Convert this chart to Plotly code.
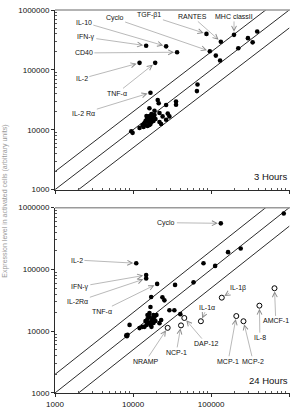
import math
import plotly.graph_objects as go

# ---------------- 3 Hours panel ----------------
h3_lab_names = ["IL-10", "IFN-γ", "CD40", "IL-2", "TNF-α", "IL-2 Rα", "Cyclo", "TGF-β1", "RANTES", "MHC classII"]
h3_lab_x = [26500, 14700, 36600, 12100, 19200, 16700, 96200, 87100, 133000, 196300]
h3_lab_y = [247000, 253000, 197000, 131000, 131000, 41600, 204600, 399000, 294600, 384400]
h3_txt_x = [2340, 2480, 2340, 2210, 6170, 2340, 5810, 16200, 57300, 196300]
h3_txt_y = [622000, 352000, 191800, 71500, 40500, 18960, 724000, 812000, 781000, 781000]

h3_x = [114800, 130200, 222700, 296000, 389000, 340000, 66900, 65700,
        20700, 21300, 35500, 35500, 26500, 16200, 18800, 21800, 23900, 27800,
        29200, 26500, 22900, 21800, 12100, 9490, 9860,
        14000, 14860, 15300, 16220, 17200, 15750, 14430, 16700, 17710, 18790,
        15300, 13610, 16220, 18240, 19350, 14860, 17200, 13210, 14430, 15750,
        17200, 16220]
h3_y = [173300, 143300, 229300, 339000, 437000, 288000, 57000, 44200,
        31400, 27700, 29500, 26200, 25900, 22900, 20800, 19000, 16700, 18600,
        16700, 14700, 12500, 13500, 10700, 9460, 8870,
        12980, 14540, 15680, 16920, 15100, 13480, 12030, 12490, 16290, 17570,
        11580, 11150, 14000, 14000, 15100, 16920, 18240, 12030, 14000, 15100,
        13480, 12030]

# ---------------- 24 Hours panel ----------------
h24_lab_names = ["Cyclo", "IL-2", "IFN-γ", "IL-2Rα", "TNF-α"]
h24_lab_x = [133000, 10980, 14720, 14720, 20340]
h24_lab_y = [556800, 125900, 81100, 71600, 58300]
h24_txt_x = [26700, 1906, 2081, 1963, 3970]
h24_txt_y = [571000, 141900, 52800, 30500, 21100]

h24_open_names = ["IL-1β", "IL-1α", "IL-8", "AMCF-1", "MCP-1", "MCP-2", "NRAMP", "NCP-1", "DAP-12"]
h24_open_x = [136800, 73900, 415000, 647700, 210000, 259500, 27750, 41100, 45300]
h24_open_y = [34900, 14500, 25900, 49600, 17600, 14500, 11340, 12420, 16370]
h24_open_tx = [220800, 88900, 421000, 673000, 165000, 345000, 14430, 35800, 86300]
h24_open_ty = [50900, 24500, 7860, 14660, 3266, 3266, 3266, 4540, 6310]

h24_x = [851000, 239000, 164700, 79800, 112500, 59500, 34500, 17060, 16700,
         23760, 25200, 29200, 33800, 22900, 21800, 40300, 9020, 8190, 8500, 8340,
         12100, 13210,
         15300, 16220, 17200, 18240, 15750, 16700, 17710, 18790, 14860, 19350,
         16220, 14430, 17200, 19920, 15300, 18240, 14000]
h24_y = [803000, 218000, 190300, 125900, 114000, 61800, 56200, 35700, 24700,
         35300, 31600, 21900, 21900, 15200, 13500, 18900, 12650, 8550, 8770, 8300,
         11220, 11770,
         15800, 16990, 14660, 18270, 13620, 12650, 15800, 16990, 12650, 14660,
         19640, 14660, 11770, 18270, 18270, 13620, 11770]

folds = [2, 1, 0.5]
x_span = [1000, 1000000]

tick_vals = [1000, 10000, 100000, 1000000]
tick_text = ["1000", "10000", "100000", "1000000"]

FONT = "Arial, Liberation Sans, sans-serif"
LINE_C = "#2b2b2b"

fig = go.Figure()

def add_panel(xa, ya):
    for f in folds:
        fig.add_trace(go.Scatter(x=x_span, y=[f * v for v in x_span], mode="lines",
                                 line=dict(color=LINE_C, width=1), xaxis=xa, yaxis=ya,
                                 hoverinfo="skip", showlegend=False))

add_panel("x2", "y2")
add_panel("x", "y")

mk = dict(color="black", size=4.6, line=dict(width=0))
fig.add_trace(go.Scatter(x=h3_x + h3_lab_x, y=h3_y + h3_lab_y, mode="markers", marker=mk,
                         xaxis="x2", yaxis="y2", showlegend=False))
fig.add_trace(go.Scatter(x=h24_x + h24_lab_x, y=h24_y + h24_lab_y, mode="markers", marker=mk,
                         xaxis="x", yaxis="y", showlegend=False))
fig.add_trace(go.Scatter(x=h24_open_x, y=h24_open_y, mode="markers",
                         marker=dict(color="white", size=5, line=dict(color="black", width=1)),
                         xaxis="x", yaxis="y", showlegend=False))

def add_ann(names, px, py, tx, ty, xr, yr):
    for n, a, b, c, d in zip(names, px, py, tx, ty):
        fig.add_annotation(x=math.log10(a), y=math.log10(b), ax=math.log10(c), ay=math.log10(d),
                           xref=xr, yref=yr, axref=xr, ayref=yr, text=n,
                           showarrow=True, arrowhead=5, arrowsize=1.6, arrowwidth=0.6,
                           arrowcolor="#8a8a8a", standoff=3,
                           font=dict(family=FONT, size=7, color="#111"))

add_ann(h3_lab_names, h3_lab_x, h3_lab_y, h3_txt_x, h3_txt_y, "x2", "y2")
add_ann(h24_lab_names, h24_lab_x, h24_lab_y, h24_txt_x, h24_txt_y, "x", "y")
add_ann(h24_open_names, h24_open_x, h24_open_y, h24_open_tx, h24_open_ty, "x", "y")

fig.add_annotation(text="3 Hours", xref="x2 domain", yref="y2 domain", x=1, y=0.03,
                   xanchor="right", yanchor="bottom", showarrow=False,
                   font=dict(family=FONT, size=9.5, color="#111"))
fig.add_annotation(text="24 Hours", xref="x domain", yref="y domain", x=1, y=0.025,
                   xanchor="right", yanchor="bottom", showarrow=False,
                   font=dict(family=FONT, size=9.5, color="#111"))
fig.add_annotation(text="Expression level in activated cells (arbitrary units)",
                   xref="paper", yref="paper", x=-0.216, y=0.5, textangle=-90,
                   xanchor="center", showarrow=False,
                   font=dict(family=FONT, size=7, color="#999"))

for yr in ["y domain", "y2 domain"]:
    xr = "x domain" if yr == "y domain" else "x2 domain"
    fig.add_shape(type="line", xref=xr, yref=yr, x0=0, x1=1, y0=1, y1=1,
                  line=dict(color="#9a9a9a", width=1.5))

axis_common = dict(type="log", showgrid=False, zeroline=False, showline=True,
                   linecolor=LINE_C, linewidth=1, ticks="outside", ticklen=3,
                   tickcolor=LINE_C, tickvals=tick_vals, ticktext=tick_text,
                   tickfont=dict(family=FONT, size=8, color="#111"),
                   minor=dict(ticks="inside", ticklen=2, tickcolor="#555",
                              tickvals=[m * 10 ** e for e in range(3, 6) for m in range(2, 10)]))

fig.update_layout(
    width=290, height=409,
    margin=dict(l=55, r=0, t=10, b=10),
    plot_bgcolor="white", paper_bgcolor="white",
    xaxis=dict(axis_common, range=[3, 6.01], domain=[0, 1], anchor="y"),
    yaxis=dict(axis_common, range=[3, 6], domain=[0, 0.484], anchor="x"),
    xaxis2=dict(axis_common, range=[3, 6.01], domain=[0, 1], anchor="y2", showticklabels=False),
    yaxis2=dict(axis_common, range=[3, 6], domain=[0.531, 1], anchor="x2"),
)

fig.write_html("out.html")
